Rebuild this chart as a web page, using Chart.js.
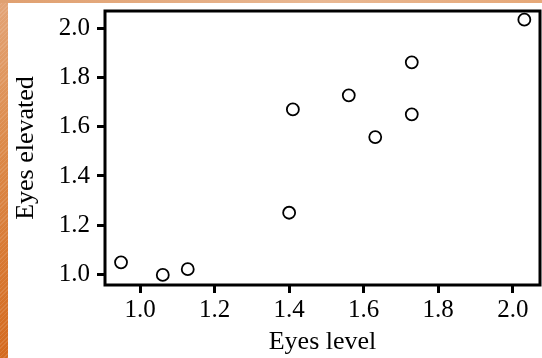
<!DOCTYPE html>
<html>
<head>
<meta charset="utf-8">
<script src="https://cdn.jsdelivr.net/npm/chart.js@4/dist/chart.umd.min.js"></script>
<style>
  html, body { margin: 0; padding: 0; background: #fff; }
  #wrap { position: relative; width: 542px; height: 358px; overflow: hidden; background: #fff; }
  #left { position: absolute; left: 0; top: 0; width: 8px; height: 358px;
    background: repeating-linear-gradient(135deg, rgba(255,255,255,0.12) 0 1px, rgba(0,0,0,0) 1px 3px),
                linear-gradient(180deg, #e3a477 0%, #dc8a4a 40%, #d46a1f 100%); }
  #top { position: absolute; left: 0; top: 0; width: 542px; height: 3px;
    background: linear-gradient(90deg, #e0a070 0%, #e9b893 60%, #e6a878 100%); }
  canvas { position: absolute; left: 0; top: 0; }
</style>
</head>
<body>
<div id="wrap">
  <div id="left"></div>
  <div id="top"></div>
  <canvas id="c" width="542" height="358"></canvas>
</div>
<script>
const eyesLevel    = [0.949, 1.061, 1.128, 1.400, 1.410, 1.560, 1.631, 1.729, 1.729, 2.031];
const eyesElevated = [1.050, 0.999, 1.022, 1.251, 1.670, 1.727, 1.558, 1.861, 1.650, 2.034];
const xTickValues  = [1.0, 1.2, 1.4, 1.6, 1.8, 2.0];
const yTickValues  = [1.0, 1.2, 1.4, 1.6, 1.8, 2.0];
const xTitle = 'Eyes level';
const yTitle = 'Eyes elevated';

const points = eyesLevel.map((x, i) => ({ x: x, y: eyesElevated[i] }));

const frame = {
  id: 'frame',
  afterDatasetsDraw(chart) {
    const a = chart.chartArea, ctx = chart.ctx;
    ctx.save();
    ctx.strokeStyle = '#000';
    ctx.lineWidth = 3;
    ctx.strokeRect(a.left, a.top, a.right - a.left, a.bottom - a.top);
    ctx.restore();
  }
};

const font = { family: "'Liberation Serif', 'Times New Roman', serif", size: 25 };
const titleFont = { family: "'Liberation Serif', 'Times New Roman', serif", size: 26 };
const noPad = s => { s.paddingLeft = 0; s.paddingRight = 0; s.paddingTop = 0; s.paddingBottom = 0; };

new Chart(document.getElementById('c'), {
  type: 'scatter',
  data: {
    datasets: [{
      data: points,
      pointStyle: 'circle',
      pointRadius: 6,
      pointHoverRadius: 6,
      backgroundColor: 'rgba(255,255,255,0)',
      borderColor: '#000',
      borderWidth: 1.8
    }]
  },
  options: {
    responsive: false,
    animation: false,
    events: [],
    layout: { autoPadding: false, padding: { left: 0, right: 2, top: 11, bottom: 0 } },
    plugins: { legend: { display: false }, tooltip: { enabled: false } },
    scales: {
      x: {
        type: 'linear',
        min: 0.906, max: 2.073,
        afterBuildTicks: s => { s.ticks = xTickValues.map(v => ({ value: v })); },
        afterFit: s => { s.height = 73; noPad(s); },
        grid: { drawOnChartArea: false, drawTicks: true, tickLength: 8, tickWidth: 3, tickColor: '#000', color: '#000', lineWidth: 3 },
        border: { display: false },
        ticks: { color: '#000', font: font, padding: 2, maxRotation: 0, callback: v => Number(v).toFixed(1) },
        title: { display: true, text: xTitle, color: '#000', font: titleFont, padding: { top: 0, bottom: 0 } }
      },
      y: {
        type: 'linear',
        min: 0.958, max: 2.069,
        afterBuildTicks: s => { s.ticks = yTickValues.map(v => ({ value: v })); },
        afterFit: s => { s.width = 105; noPad(s); },
        grid: { drawOnChartArea: false, drawTicks: true, tickLength: 8, tickWidth: 3, tickColor: '#000', color: '#000', lineWidth: 3 },
        border: { display: false },
        ticks: { color: '#000', font: font, padding: 7, callback: v => Number(v).toFixed(1) },
        title: { display: true, text: yTitle, color: '#000', font: titleFont, padding: { top: 11, bottom: 0 } }
      }
    }
  },
  plugins: [frame]
});
</script>
</body>
</html>
